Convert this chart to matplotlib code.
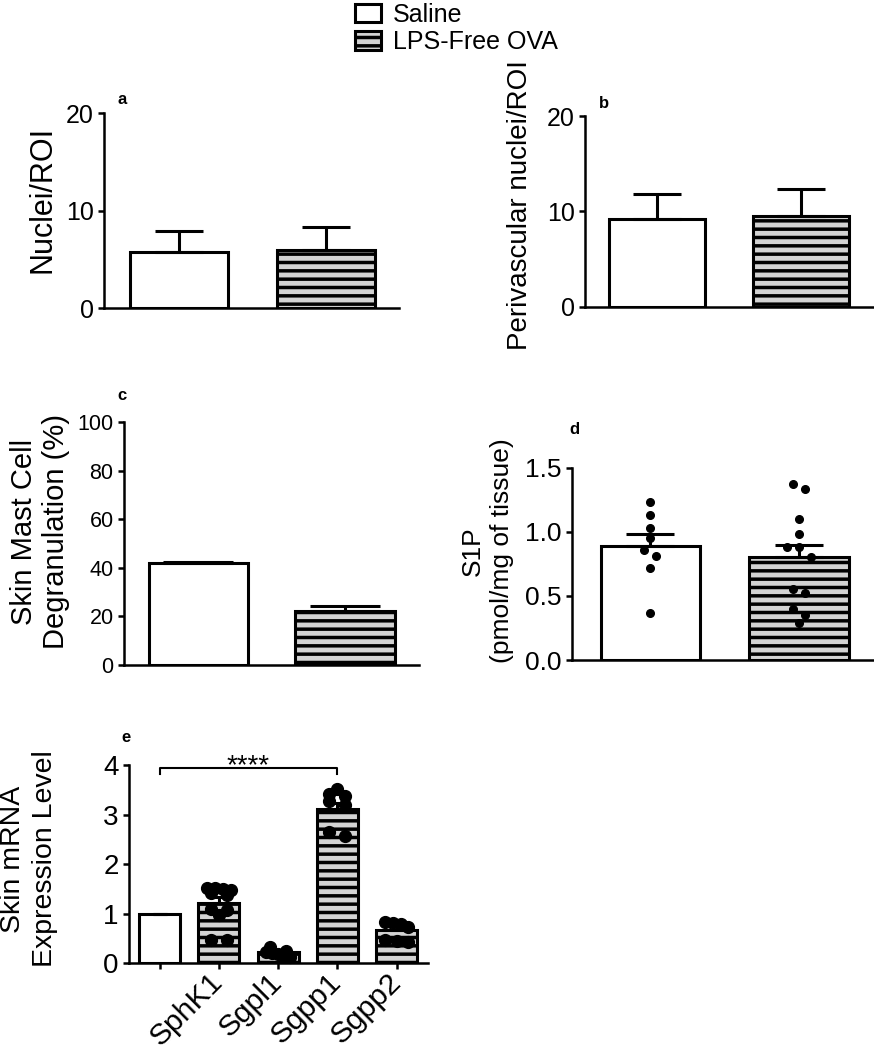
import matplotlib
matplotlib.use('Agg')
import matplotlib.pyplot as plt
from matplotlib.patches import Patch
import numpy as np

plt.rcParams['font.family'] = ['Liberation Sans', 'DejaVu Sans']
plt.rcParams['hatch.linewidth'] = 2.5

groups = ['Saline', 'LPS-Free OVA']

# a: nuclei per ROI
a_mean = [5.8, 6.0]
a_sem = [2.1, 2.3]
# b: perivascular nuclei per ROI
b_mean = [9.2, 9.55]
b_sem = [2.6, 2.75]
# c: skin mast cell degranulation (%)
c_mean = [42.0, 22.2]
c_sem = [0.6, 2.3]
# d: S1P (pmol/mg of tissue)
d_mean = [0.89, 0.80]
d_sem = [0.09, 0.10]
d_saline_pts = [1.23, 1.13, 1.03, 0.95, 0.86, 0.81, 0.72, 0.37]
d_ova_pts = [1.37, 1.33, 1.10, 0.98, 0.88, 0.88, 0.80, 0.55, 0.52, 0.40, 0.35, 0.29]
# e: skin mRNA expression level
e_genes = ['', 'SphK1', 'Sgpl1', 'Sgpp1', 'Sgpp2']
e_mean = [1.0, 1.22, 0.22, 3.12, 0.68]
e_sem = [0.0, 0.12, 0.03, 0.12, 0.07]
e_pts = [
    [],
    [1.53, 1.53, 1.50, 1.48, 1.42, 1.38, 1.10, 1.08, 0.97, 0.48, 0.47],
    [0.33, 0.25, 0.22, 0.20, 0.18, 0.15, 0.12],
    [3.52, 3.42, 3.38, 3.28, 3.20, 2.66, 2.58],
    [0.83, 0.81, 0.79, 0.74, 0.48, 0.45, 0.44],
]

W, H = 874, 1050
GRAY = '#d3d3d3'
LW = 2.2

fig = plt.figure(figsize=(W / 100, H / 100), dpi=100)


def add_ax(l, r, t, b):
    return fig.add_axes([l / W, 1 - b / H, (r - l) / W, (b - t) / H])


def style(ax, fs):
    for s in ['top', 'right']:
        ax.spines[s].set_visible(False)
    for s in ['left', 'bottom']:
        ax.spines[s].set_linewidth(1.8)
    ax.tick_params(axis='y', direction='out', length=4.5, width=1.8, labelsize=fs, pad=3)
    ax.tick_params(axis='x', bottom=False, labelbottom=False)


def bars(ax, x, means, sems, fills, width, capsize, hatch_from=1):
    bs = ax.bar(x, means, width, color=fills, edgecolor='black', linewidth=LW, zorder=2)
    for i, p in enumerate(bs.patches):
        if i >= hatch_from:
            p.set_hatch('--')
    ax.errorbar(x, means, yerr=[np.zeros(len(means)), sems], fmt='none',
                ecolor='black', elinewidth=LW, capsize=capsize, capthick=LW, zorder=3)


def swarm(values, thresh, step, maxspread):
    # spread dots with similar values symmetrically around the bar centre
    order = sorted(range(len(values)), key=lambda i: -values[i])
    offs = np.zeros(len(values))
    grp = []

    def flush(g):
        n = len(g)
        if n < 2:
            return
        spread = min((n - 1) * step, maxspread)
        for k, i in enumerate(g):
            offs[i] = -spread / 2 + k * spread / (n - 1)

    for i in order:
        if grp and values[grp[0]] - values[i] > thresh:
            flush(grp)
            grp = []
        grp.append(i)
    flush(grp)
    return offs


x2 = np.arange(2)
fills2 = ['white', GRAY]

# ---- a
ax = add_ax(104, 399, 113.3, 308.3)
style(ax, 18)
bars(ax, x2, a_mean, a_sem, fills2, 0.667, 17)
ax.set_xlim(-0.51, 1.5)
ax.set_ylim(0, 20)
ax.set_yticks([0, 10, 20])
ax.set_ylabel('Nuclei/ROI', fontsize=22, va='center', ha='center')
ax.yaxis.set_label_coords(-0.21, 0.56)

# ---- b
ax = add_ax(585, 874, 116, 306.7)
style(ax, 18)
bars(ax, x2, b_mean, b_sem, fills2, 0.66, 17)
ax.set_xlim(-0.5, 1.507)
ax.set_ylim(0, 20)
ax.set_yticks([0, 10, 20])
ax.set_ylabel('Perivascular nuclei/ROI', fontsize=20, va='center', ha='center')
ax.yaxis.set_label_coords(-0.225, 0.533)

# ---- c
ax = add_ax(124, 419, 422.3, 665)
style(ax, 15.5)
bars(ax, x2, c_mean, c_sem, fills2, 0.676, 25)
ax.set_xlim(-0.508, 1.505)
ax.set_ylim(0, 100)
ax.set_yticks(range(0, 101, 20))
ax.set_ylabel('Skin Mast Cell\nDegranulation (%)', fontsize=21, va='center', ha='center',
              linespacing=1.2)
ax.yaxis.set_label_coords(-0.285, 0.55)

# ---- d
ax = add_ax(572, 874, 467.7, 660)
style(ax, 19)
bars(ax, x2, d_mean, d_sem, fills2, 0.67, 17)
for xi, pts in zip(x2, [d_saline_pts, d_ova_pts]):
    pts = np.array(pts)
    ax.plot(xi + swarm(pts, 0.08, 0.08, 0.17), pts, 'o', color='black', ms=5.5, zorder=4,
            clip_on=False)
ax.set_xlim(-0.527, 1.506)
ax.set_ylim(0, 1.5)
ax.set_yticks([0, 0.5, 1.0, 1.5])
ax.set_yticklabels(['0.0', '0.5', '1.0', '1.5'])
ax.set_ylabel('S1P\n(pmol/mg of tissue)', fontsize=19, va='center', ha='center',
              linespacing=1.3)
ax.yaxis.set_label_coords(-0.28, 0.567)

# ---- e
ax = add_ax(129, 428, 765.3, 963.3)
style(ax, 20)
x5 = np.arange(len(e_genes))
bars(ax, x5, e_mean, e_sem, ['white'] + [GRAY] * 4, 0.69, 5)
for xi, pts in zip(x5, e_pts):
    if pts:
        pts = np.array(pts)
        ax.plot(xi + swarm(pts, 0.1, 0.27, 0.4), pts, 'o', color='black', ms=8.5, zorder=4,
                clip_on=False)
ax.set_xlim(-0.515, 4.53)
ax.set_ylim(0, 4)
ax.set_yticks(range(5))
ax.set_xticks(x5)
ax.set_xticklabels(e_genes, rotation=45, ha='right', va='center', rotation_mode='anchor')
ax.tick_params(axis='x', bottom=True, labelbottom=True, direction='out', length=4.5,
               width=1.8, labelsize=21.5, pad=6)
ax.set_ylabel('Skin mRNA\nExpression Level', fontsize=20.5, va='center', ha='center',
              linespacing=1.3)
ax.yaxis.set_label_coords(-0.335, 0.527)
# significance bracket Saline vs Sgpp1
ax.plot([0, 0, 3, 3], [3.82, 3.94, 3.94, 3.82], color='black', lw=1.5, clip_on=False)
ax.text(1.5, 3.84, '****', ha='center', va='baseline', fontsize=20)

# panel letters
for lab, px, py in [('a', 122, 100), ('b', 604, 103), ('c', 122, 395), ('d', 574, 429), ('e', 126, 737)]:
    fig.text(px / W, 1 - py / H, lab, fontsize=12, fontweight='bold', ha='center', va='center')

# legend
handles = [Patch(facecolor='white', edgecolor='black', linewidth=LW, label=groups[0]),
           Patch(facecolor=GRAY, edgecolor='black', linewidth=LW, hatch='--', label=groups[1])]
fig.legend(handles=handles, loc='upper left', bbox_to_anchor=(352 / W, 1.0), frameon=False,
           fontsize=18, handlelength=1.05, handleheight=0.75, handletextpad=0.5,
           labelspacing=0.15, borderpad=0.1, borderaxespad=0)

fig.savefig('out.png', dpi=100)
